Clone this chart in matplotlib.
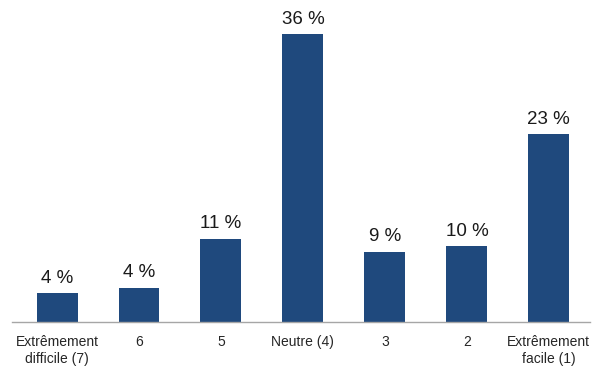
import matplotlib.pyplot as plt

categories = ['Extrêmement\ndifficile (7)', '6', '5', 'Neutre (4)', '3', '2', 'Extrêmement\nfacile (1)']
values = [3.6, 4.3, 10.4, 36.0, 8.8, 9.5, 23.5]
labels = ['4 %', '4 %', '11 %', '36 %', '9 %', '10 %', '23 %']

plt.rcParams['font.family'] = ['Liberation Sans', 'DejaVu Sans']

fig = plt.figure(figsize=(5.97, 3.67), dpi=100)
ax = fig.add_axes([0.02, 0.1226, 0.968, 0.8774])

x = range(len(categories))
bars = ax.bar(x, values, width=0.5, color='#1f497d')

# value labels above each bar
for rect, lab in zip(bars, labels):
    ax.text(rect.get_x() + rect.get_width() / 2, rect.get_height() + 0.8, lab,
            ha='center', va='bottom', fontsize=13.5, color='#1a1a1a')

ax.set_xlim(-0.55, 6.5)
ax.set_ylim(0, 40.25)
ax.set_xticks(list(x))
ax.set_xticklabels(categories, fontsize=10, color='#262626', linespacing=1.3)
ax.tick_params(axis='x', length=0, pad=9)
ax.set_yticks([])

for side in ['top', 'right', 'left']:
    ax.spines[side].set_visible(False)
ax.spines['bottom'].set_color('#a6a6a6')
ax.spines['bottom'].set_linewidth(1)

fig.savefig('out.png', dpi=100)
